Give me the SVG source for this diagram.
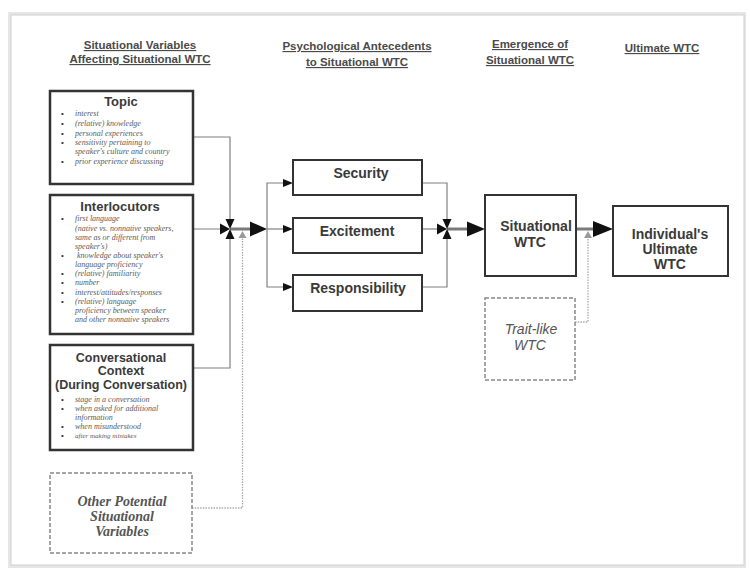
<svg xmlns="http://www.w3.org/2000/svg" width="750" height="569" viewBox="0 0 750 569">
<style>
.hd{font-family:"Liberation Sans",Arial,sans-serif;font-weight:bold;font-size:11.5px;fill:#4a4a4a;text-anchor:middle;text-decoration:underline}
.ttl{font-family:"Liberation Sans",Arial,sans-serif;font-weight:bold;font-size:13px;fill:#3a3a3a;text-anchor:middle}
.ttl2{font-family:"Liberation Sans",Arial,sans-serif;font-weight:bold;font-size:12.5px;fill:#3a3a3a;text-anchor:middle}
.bt{font-family:"Liberation Sans",Arial,sans-serif;font-weight:bold;font-size:14px;fill:#3a3a3a;text-anchor:middle}
.it{font-family:"Liberation Serif","Times New Roman",serif;font-style:italic;font-size:8px;fill:#5a5a5a}
.bul{font-family:"Liberation Sans",Arial,sans-serif;font-size:8px;fill:#333}
.tb{fill:#fff;stroke:#333;stroke-width:2.5}
.box{fill:#fff;stroke:#333;stroke-width:2}
.dash{fill:#fff;stroke:#888;stroke-width:1.5;stroke-dasharray:4 2}
.ln{fill:none;stroke:#808080;stroke-width:1.2}
.dot{fill:none;stroke:#aaa;stroke-width:1.3;stroke-dasharray:1.5 1.2}
.thick{fill:none;stroke:#7a7a7a;stroke-width:3}
.ah{fill:#111}
.gah{fill:#999}
.ser{font-family:"Liberation Serif","Times New Roman",serif;font-style:italic;font-weight:bold;font-size:14px;fill:#555;text-anchor:middle}
.san{font-family:"Liberation Sans",Arial,sans-serif;font-style:italic;font-size:14px;fill:#555;text-anchor:middle}
</style>
<rect x="0" y="0" width="750" height="569" fill="#fff"/>
<rect x="8" y="12" width="738" height="556" fill="#e6e6e6"/>
<rect x="11" y="15" width="733" height="550" fill="#fff" stroke="#d0d0d0" stroke-width="1"/>

<g id="headings">
<text class="hd" x="140" y="49">Situational Variables</text>
<text class="hd" x="140" y="63">Affecting Situational WTC</text>
<text class="hd" x="357" y="50">Psychological  Antecedents</text>
<text class="hd" x="357" y="66">to Situational WTC</text>
<text class="hd" x="530" y="48">Emergence of</text>
<text class="hd" x="530" y="64">Situational WTC</text>
<text class="hd" x="662" y="52">Ultimate WTC</text>
</g>

<g id="connectors">
<polyline class="ln" points="193,137 230,137 230,220"/>
<polyline class="ln" points="177,229 221,229"/>
<polyline class="ln" points="193,368 230,368 230,238"/>
<polyline class="dot" points="192,508 242.5,508 242.5,238"/>
<line class="thick" x1="230" y1="229" x2="251" y2="229"/>
<polygon class="ah" points="220,223.5 220,234.5 230,229"/>
<polygon class="ah" points="225.5,219 234.5,219 230,229"/>
<polygon class="ah" points="225.5,239 234.5,239 230,229"/>
<polygon class="gah" points="238.5,238 246.5,238 242.5,231"/>
<polygon class="ah" points="250,221.5 250,236.5 267,229"/>
<polyline class="ln" points="283,183 267,183 267,287 283,287"/>
<line class="ln" x1="267" y1="229" x2="283" y2="229"/>
<polygon class="ah" points="283,179 283,187 293,183"/>
<polygon class="ah" points="283,225 283,233 293,229"/>
<polygon class="ah" points="283,283 283,291 293,287"/>
<polyline class="ln" points="422,183 447,183 447,220"/>
<polyline class="ln" points="422,287 447,287 447,238"/>
<line class="ln" x1="422" y1="229" x2="437" y2="229"/>
<line class="thick" x1="447" y1="229" x2="468" y2="229"/>
<polygon class="ah" points="437,223.5 437,234.5 447,229"/>
<polygon class="ah" points="442.5,219 451.5,219 447,229"/>
<polygon class="ah" points="442.5,239 451.5,239 447,229"/>
<polygon class="ah" points="467,221.5 467,236.5 485,229"/>
<line class="thick" x1="576" y1="229" x2="594" y2="229"/>
<polyline class="dot" points="575,322 588,322 588,238"/>
<polygon class="gah" points="584,238 592,238 588,231"/>
<polygon class="ah" points="593,221 593,237 613,229"/>
</g>

<g id="topic">
<rect class="tb" x="50" y="91" width="143" height="93"/>
<text class="ttl" x="121" y="106">Topic</text>
<text class="bul" x="61" y="116">•</text><text class="it" x="75" y="116">interest</text>
<text class="bul" x="61" y="126">•</text><text class="it" x="75" y="126">(relative) knowledge</text>
<text class="bul" x="61" y="136">•</text><text class="it" x="75" y="136">personal experiences</text>
<text class="bul" x="61" y="145">•</text><text class="it" x="75" y="145">sensitivity pertaining to</text>
<text class="it" x="75" y="154">speaker's culture and country</text>
<text class="bul" x="61" y="164">•</text><text class="it" x="75" y="164">prior experience discussing</text>
</g>

<g id="interlocutors">
<rect class="tb" x="50" y="195" width="143" height="139"/>
<text class="ttl" x="120" y="211">Interlocutors</text>
<text class="bul" x="61" y="220.5">•</text><text class="it" x="75" y="220.5">first language</text>
<text class="it" x="75" y="230.5">(native vs. nonnative speakers,</text>
<text class="it" x="75" y="239.5">same as or different from</text>
<text class="it" x="75" y="248.5">speaker's)</text>
<text class="bul" x="61" y="257.5">•</text><text class="it" x="77" y="257.5">knowledge about speaker's</text>
<text class="it" x="75" y="266.5">language proficiency</text>
<text class="bul" x="61" y="275.5">•</text><text class="it" x="75" y="275.5">(relative) familiarity</text>
<text class="bul" x="61" y="284.5">•</text><text class="it" x="75" y="284.5">number</text>
<text class="bul" x="61" y="294.5">•</text><text class="it" x="75" y="294.5">interest/attitudes/responses</text>
<text class="bul" x="61" y="304">•</text><text class="it" x="75" y="304">(relative) language</text>
<text class="it" x="75" y="312.5">proficiency between speaker</text>
<text class="it" x="75" y="321.5">and other nonnative speakers</text>
</g>

<g id="conversational-context">
<rect class="tb" x="50" y="345" width="143" height="105"/>
<text class="ttl2" x="121" y="362">Conversational</text>
<text class="ttl2" x="121" y="375">Context</text>
<text class="ttl2" x="121" y="389">(During Conversation)</text>
<text class="bul" x="61" y="402">•</text><text class="it" x="75" y="402">stage in a conversation</text>
<text class="bul" x="61" y="411">•</text><text class="it" x="75" y="411">when asked  for additional</text>
<text class="it" x="75" y="420">information</text>
<text class="bul" x="61" y="429">•</text><text class="it" x="75" y="429">when misunderstood</text>
<text class="bul" x="61" y="438">•</text><text class="it" x="75" y="438" style="font-size:7px">after making mistakes</text>
</g>

<g id="other-potential">
<rect class="dash" x="50" y="473" width="142" height="80"/>
<text class="ser" x="122" y="506">Other Potential</text>
<text class="ser" x="122" y="521">Situational</text>
<text class="ser" x="122" y="536">Variables</text>
</g>

<g id="security">
<rect class="box" x="293" y="160" width="129" height="35"/>
<text class="bt" x="361" y="178">Security</text>
</g>
<g id="excitement">
<rect class="box" x="293" y="218" width="129" height="35"/>
<text class="bt" x="357" y="236">Excitement</text>
</g>
<g id="responsibility">
<rect class="box" x="293" y="275" width="129" height="36"/>
<text class="bt" x="358" y="293">Responsibility</text>
</g>

<g id="situational-wtc">
<rect class="box" x="485" y="195" width="91" height="81"/>
<text class="bt" x="536" y="231">Situational</text>
<text class="bt" x="530" y="247">WTC</text>
</g>

<g id="trait-like-wtc">
<rect class="dash" x="485" y="298" width="90" height="82"/>
<text class="san" x="531" y="334">Trait-like</text>
<text class="san" x="530" y="350">WTC</text>
</g>

<g id="ultimate-wtc">
<rect class="box" x="613" y="206" width="115" height="70"/>
<text class="bt" x="670" y="239">Individual's</text>
<text class="bt" x="670" y="254">Ultimate</text>
<text class="bt" x="670" y="269">WTC</text>
</g>
</svg>
